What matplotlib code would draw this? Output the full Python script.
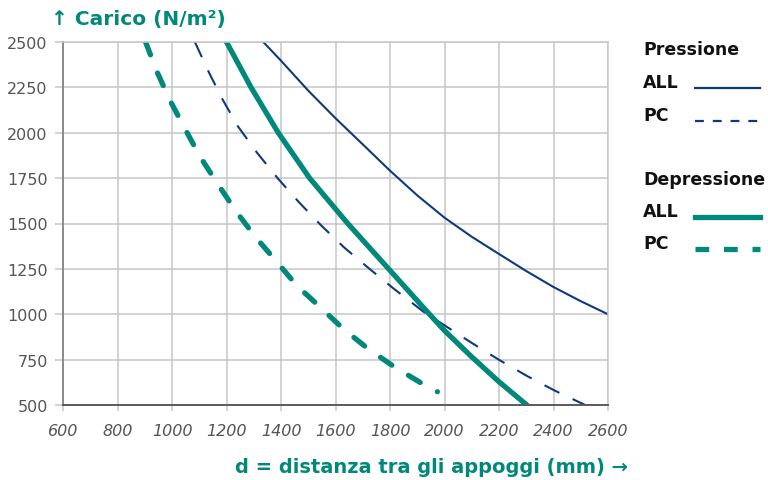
import matplotlib
matplotlib.use("Agg")
import matplotlib.pyplot as plt
from matplotlib.lines import Line2D

NAVY, TEAL = "#0e3a7c", "#00897b"
GRID, TICKTXT = "#c6c6c6", "#555555"

plt.rcParams["font.family"] = ["Liberation Sans Narrow", "DejaVu Sans"]

# Pressione (navy)
press_all_d = [1335, 1400, 1500, 1600, 1700, 1800, 1900, 2000, 2100, 2200, 2300, 2400, 2500, 2600]
press_all_q = [2500, 2397, 2232, 2080, 1936, 1791, 1655, 1532, 1427, 1332, 1238, 1150, 1072, 1000]
press_pc_d = [1084, 1133, 1186, 1243, 1311, 1388, 1466, 1547, 1631, 1721, 1812, 1922, 2002,
              2100, 2201, 2305, 2405, 2516]
press_pc_q = [2500, 2340, 2182, 2033, 1892, 1749, 1617, 1490, 1369, 1255, 1143, 1015, 937,
              842, 748, 658, 579, 500]

# Depressione (teal)
dep_all_d = [1200, 1290, 1390, 1505, 1645, 1795, 1945, 2000, 2100, 2200, 2302]
dep_all_q = [2500, 2250, 2000, 1750, 1500, 1250, 1000, 910, 765, 628, 500]
dep_pc_d = [903, 944, 993, 1048, 1103, 1166, 1235, 1307, 1381, 1458, 1543, 1629, 1720,
            1818, 1920, 1974]
dep_pc_q = [2500, 2339, 2177, 2021, 1868, 1722, 1567, 1424, 1295, 1158, 1040, 919, 809,
            708, 616, 573]

x_ticks = list(range(600, 2601, 200))
y_ticks = list(range(500, 2501, 250))

fig = plt.figure(figsize=(7.68, 4.81), dpi=100)
ax = fig.add_axes([63 / 768, 1 - 406 / 481, 545 / 768, 363 / 481])

ax.plot(press_all_d, press_all_q, color=NAVY, lw=1.5, solid_joinstyle="round")
ax.plot(press_pc_d, press_pc_q, color=NAVY, lw=1.5, dashes=(8, 7))
ax.plot(dep_all_d, dep_all_q, color=TEAL, lw=3.8, solid_capstyle="round",
        solid_joinstyle="round")
ax.plot(dep_pc_d, dep_pc_q, color=TEAL, lw=3.8, dashes=(2.6, 3.7), dash_capstyle="round")

ax.set_xlim(600, 2600)
ax.set_ylim(500, 2500)
ax.set_xticks(x_ticks)
ax.set_yticks(y_ticks)
ax.grid(True, color=GRID, lw=1.1)
ax.set_axisbelow(True)
for s in ("top", "right"):
    ax.spines[s].set_color(GRID)
    ax.spines[s].set_linewidth(1.1)
ax.spines["left"].set_color("#8a8a8a")
ax.spines["left"].set_linewidth(1.4)
ax.spines["bottom"].set_color("#5a5a5a")
ax.spines["bottom"].set_linewidth(1.4)

ax.tick_params(axis="x", length=4, width=1.1, color=GRID, pad=9,
               labelsize=11.5, labelcolor=TICKTXT)
ax.tick_params(axis="y", length=6, width=1.1, color=GRID, pad=5,
               labelsize=11.5, labelcolor=TICKTXT)
for lab in ax.get_xticklabels():
    lab.set_fontstyle("italic")

bold = ["DejaVu Sans"]
fig.text(51 / 768, 1 - 19 / 481, "↑ Carico (N/m²)", family=bold, weight="bold",
         fontsize=14.5, color=TEAL, ha="left", va="center")
fig.text(628 / 768, 1 - 468 / 481, "d = distanza tra gli appoggi (mm) →", family=bold,
         weight="bold", fontsize=14, color=TEAL, ha="right", va="center")

# manual legend
legend_rows = [
    ("Pressione", 50, None),
    ("ALL", 83, dict(color=NAVY, lw=1.6)),
    ("PC", 116, dict(color=NAVY, lw=1.6, dashes=(4, 4))),
    ("Depressione", 180, None),
    ("ALL", 212, dict(color=TEAL, lw=3.8)),
    ("PC", 244, dict(color=TEAL, lw=3.8, dashes=(2.6, 2.8))),
]
for label, ypx, style in legend_rows:
    fig.text(643 / 768, 1 - ypx / 481, label, family=bold, weight="bold",
             fontsize=12.5, color="#111111", ha="left", va="center")
    if style:
        yl = 1 - (ypx + 6) / 481
        fig.add_artist(Line2D([695 / 768, 760 / 768], [yl, yl],
                              transform=fig.transFigure, **style))

fig.savefig("out.png", dpi=100)
